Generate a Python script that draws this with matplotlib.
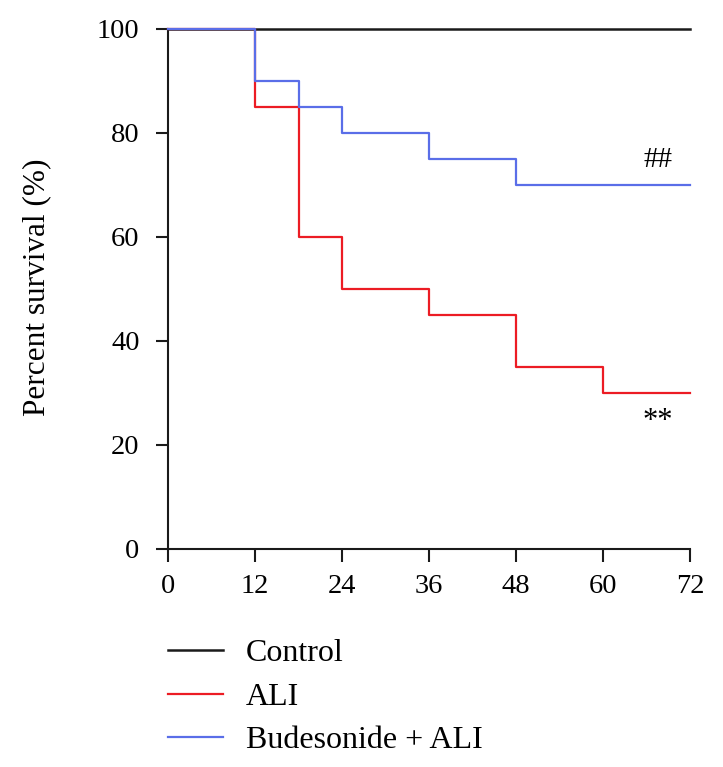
import matplotlib
matplotlib.use("Agg")
import matplotlib.pyplot as plt

# Data
time_control = [0, 72]
surv_control = [100, 100]
time_ali = [0, 12, 18, 24, 36, 48, 60, 72]
surv_ali = [100, 85, 60, 50, 45, 35, 30, 30]
time_bud = [0, 12, 18, 24, 36, 48, 72]
surv_bud = [100, 90, 85, 80, 75, 70, 70]
labels = ["Control", "ALI", "Budesonide + ALI"]
xticks = [0, 12, 24, 36, 48, 60, 72]
yticks = [0, 20, 40, 60, 80, 100]

plt.rcParams['font.family'] = ['Liberation Serif', 'DejaVu Serif']

fig = plt.figure(figsize=(7.23, 7.67), dpi=100)
ax = fig.add_axes([168/723, 1-549/767, (690-168)/723, (549-29)/767])

ax.step(time_control, surv_control, where='post', color='#1a1a1a', lw=1.8, label=labels[0], clip_on=False, zorder=3)
ax.step(time_ali, surv_ali, where='post', color='#ec1c24', lw=1.6, label=labels[1], clip_on=False, zorder=4)
ax.step(time_bud, surv_bud, where='post', color='#5a6ee8', lw=1.6, label=labels[2], clip_on=False, zorder=5)

ax.set_xlim(0, 72)
ax.set_ylim(0, 100)
ax.set_xticks(xticks)
ax.set_yticks(yticks)
for s in ['top', 'right']:
    ax.spines[s].set_visible(False)
for s in ['left', 'bottom']:
    ax.spines[s].set_linewidth(1.5)
    ax.spines[s].set_color('#1a1a1a')
ax.tick_params(axis='both', direction='out', length=9, width=1.5, labelsize=20.5,
               colors='#1a1a1a', labelcolor='black')
ax.tick_params(axis='y', pad=11.5)
ax.tick_params(axis='x', pad=9)
fig.text(36.5/723, 1-287.5/767, "Percent survival (%)", fontsize=22.5, rotation=90,
         ha='center', va='center')

ax.text(67.6, 72.3, "##", fontsize=21, ha='center', va='bottom')
ax.text(67.6, 24.5, "**", fontsize=22, ha='center', va='center')

fig.legend(loc='upper left', bbox_to_anchor=(168/723, 1-639/767), frameon=False,
           fontsize=23, handlelength=1.72, handletextpad=0.72, labelspacing=0.44,
           borderpad=0, borderaxespad=0)

fig.savefig("out.png", dpi=100)
